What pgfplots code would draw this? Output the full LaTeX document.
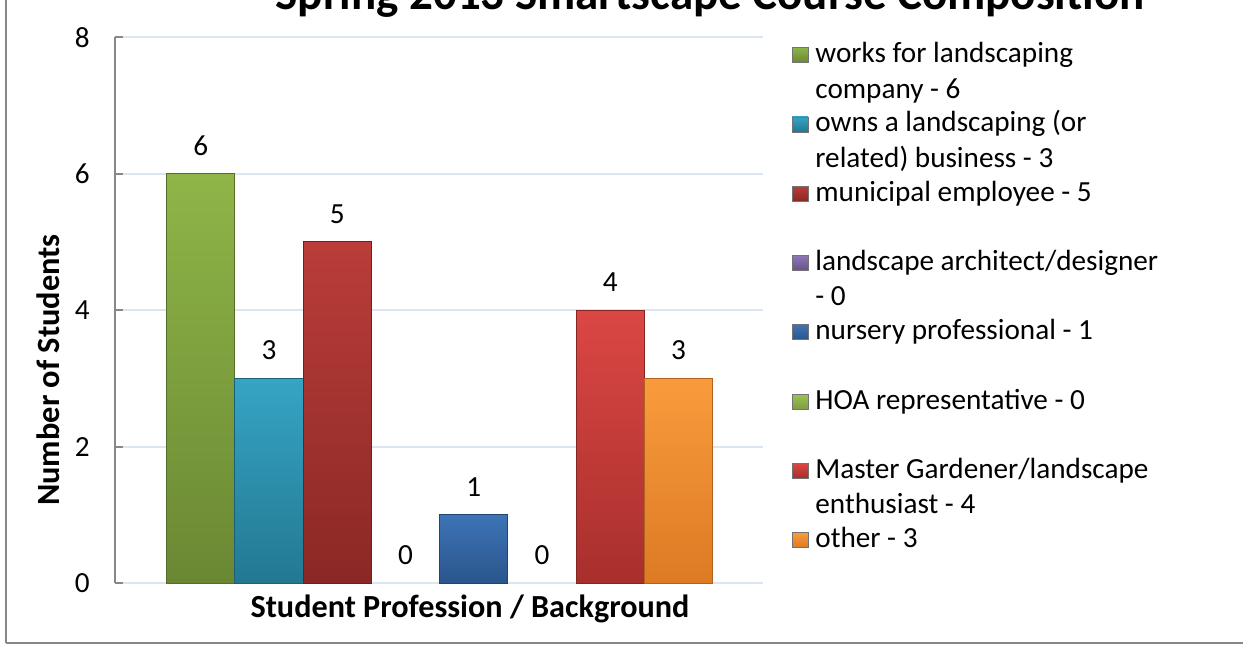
\documentclass[border=0pt]{standalone}
\usepackage{pgfplots}
\pgfplotsset{compat=1.18}
\usepackage{fontspec}
\setmainfont{Carlito}
\definecolor{gridblue}{HTML}{DCE6F2}
\definecolor{axgray}{HTML}{878787}
\definecolor{gAt}{HTML}{8FB548}\definecolor{gAb}{HTML}{6A8833}
\definecolor{tAt}{HTML}{35A5C4}\definecolor{tAb}{HTML}{237892}
\definecolor{rAt}{HTML}{BA3D39}\definecolor{rAb}{HTML}{8A2825}
\definecolor{purp}{HTML}{7A5FA6}
\definecolor{bAt}{HTML}{3D74B6}\definecolor{bAb}{HTML}{2A558C}
\definecolor{gBt}{HTML}{9CC255}\definecolor{gBb}{HTML}{7E9F3D}
\definecolor{rBt}{HTML}{DB4744}\definecolor{rBb}{HTML}{A82F2C}
\definecolor{oAt}{HTML}{F99B3D}\definecolor{oAb}{HTML}{DD7A24}
\newcommand{\lfont}{\fontsize{14.6}{17}\selectfont}
\begin{document}
\begin{tikzpicture}
\draw[axgray, line width=1pt] (3pt,1pt) -- (3pt,340pt);
\draw[axgray, line width=1pt] (3pt,1pt) -- (640pt,1pt);
\begin{axis}[
  at={(57.5pt,31pt)}, anchor=south west,
  scale only axis, width=324pt, height=272.85pt,
  xmin=-0.257, xmax=9.237, ymin=0, ymax=8,
  axis x line=none, axis y line*=left,
  xtick=\empty, ytick={0,2,4,6,8},
  ymajorgrids, grid style={gridblue, line width=1pt},
  y axis line style={axgray, line width=1pt, -},
  tick style={axgray, line width=1pt},
  major tick length=4pt, tick align=inside,
  /pgf/number format/assume math mode=true,
  yticklabel style={font=\lfont, anchor=east, inner sep=0pt, xshift=-12.5pt},
  nodes near coords,
  nodes near coords style={font=\lfont, anchor=center, inner sep=0pt, yshift=14pt, text=black},
  every axis plot/.append style={ybar, bar width=1, bar shift=0pt, line width=0.5pt},
]
\addplot[top color=gAt, bottom color=gAb, draw=gAb!80!black] coordinates {(1,6)};
\addplot[top color=tAt, bottom color=tAb, draw=tAb!80!black] coordinates {(2,3)};
\addplot[top color=rAt, bottom color=rAb, draw=rAb!80!black] coordinates {(3,5)};
\addplot[draw=none, fill=none] coordinates {(4,0)};
\addplot[top color=bAt, bottom color=bAb, draw=bAb!80!black] coordinates {(5,1)};
\addplot[draw=none, fill=none] coordinates {(6,0)};
\addplot[top color=rBt, bottom color=rBb, draw=rBb!80!black] coordinates {(7,4)};
\addplot[top color=oAt, bottom color=oAb, draw=oAb!80!black] coordinates {(8,3)};
\end{axis}
% legend
\tikzset{lt/.style={anchor=base west, inner sep=0pt, font=\lfont},
         sw/.style={minimum width=8pt, minimum height=7.5pt, inner sep=0pt, draw=black!55, line width=0.3pt}}
\node[sw, top color=gAt, bottom color=gAb] at (400pt,295pt) {};
\node[lt] at (407.5pt,291.25pt) {works for landscaping};
\node[lt] at (407.5pt,273.5pt) {company - 6};
\node[sw, top color=tAt, bottom color=tAb] at (400pt,260.35pt) {};
\node[lt] at (407.5pt,256.6pt) {owns a landscaping (or};
\node[lt] at (407.5pt,238.85pt) {related) business - 3};
\node[sw, top color=rAt, bottom color=rAb] at (400pt,225.7pt) {};
\node[lt] at (407.5pt,221.95pt) {municipal employee - 5};
\node[sw, top color=purp!85!white, bottom color=purp!85!black] at (400pt,191.05pt) {};
\node[lt] at (407.5pt,187.3pt) {landscape architect/designer};
\node[lt] at (407.5pt,169.55pt) {- 0};
\node[sw, top color=bAt, bottom color=bAb] at (400pt,156.4pt) {};
\node[lt] at (407.5pt,152.65pt) {nursery professional - 1};
\node[sw, top color=gBt, bottom color=gBb] at (400pt,121.75pt) {};
\node[lt] at (407.5pt,118pt) {HOA representative - 0};
\node[sw, top color=rBt, bottom color=rBb] at (400pt,87.1pt) {};
\node[lt] at (407.5pt,83.35pt) {Master Gardener/landscape};
\node[lt] at (407.5pt,65.6pt) {enthusiast - 4};
\node[sw, top color=oAt, bottom color=oAb] at (400pt,52.45pt) {};
\node[lt] at (407.5pt,48.7pt) {other - 3};
% titles
\node[anchor=base, inner sep=0pt, font=\fontsize{23.5}{28}\selectfont\bfseries] at (355pt,318pt) {Spring 2013 Smartscape Course Composition};
\node[anchor=base, inner sep=0pt, font=\fontsize{16.1}{19}\selectfont\bfseries] at (235pt,14pt) {Student Profession / Background};
\node[rotate=90, inner sep=0pt, font=\fontsize{16.2}{19}\selectfont\bfseries] at (24pt,137.5pt) {Number of Students};
\pgfresetboundingbox
\useasboundingbox (0,0) rectangle (621.5pt,322.5pt);
\end{tikzpicture}
\end{document}
